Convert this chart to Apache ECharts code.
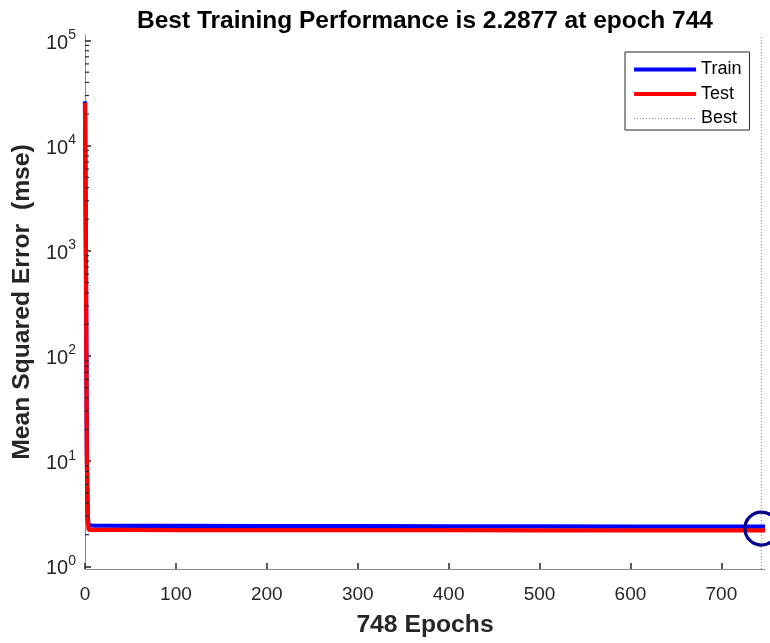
<!DOCTYPE html>
<html>
<head>
<meta charset="utf-8">
<script src="https://cdn.jsdelivr.net/npm/echarts@6/dist/echarts.min.js"></script>
<style>
  html, body { margin: 0; padding: 0; background: #fff; }
  #chart { width: 770px; height: 643px; }
</style>
</head>
<body>
<div id="chart"></div>
<script>
// Training record (epoch, mean squared error)
const trainEpochs = [0, 1, 2, 3, 4, 6, 10, 20, 50, 100, 200, 300, 400, 500, 600, 700, 744, 748];
const trainMse    = [26500, 900, 12, 3.0, 2.46, 2.44, 2.43, 2.43, 2.42, 2.42, 2.41, 2.41, 2.40, 2.40, 2.39, 2.39, 2.39, 2.39];
const testEpochs  = [0, 1, 2, 3, 4, 6, 10, 20, 50, 100, 200, 300, 400, 500, 600, 700, 744, 748];
const testMse     = [25600, 850, 11, 2.8, 2.23, 2.22, 2.22, 2.22, 2.22, 2.21, 2.21, 2.21, 2.21, 2.20, 2.20, 2.20, 2.20, 2.20];

const bestEpoch = 744;
const bestPerf = 2.2877;
const totalEpochs = 748;

const xTicks = [0, 100, 200, 300, 400, 500, 600, 700];
const yTicks = [1, 10, 100, 1000, 10000, 100000];
const minorMultipliers = [2, 3, 4, 5, 6, 7, 8, 9];

// plotted range of the log axis (a little padding around 10^0 .. 10^5)
const yMin = 0.943;
const yMax = 113000;

const FONT = '"Liberation Sans", Arial, Helvetica, sans-serif';
const INK = '#262626';

const zip = (xs, ys) => xs.map((x, i) => [x, ys[i]]);

// minor tick values between the decades of the log axis
const minorTickValues = [];
yTicks.slice(0, -1).forEach(d => {
  minorMultipliers.forEach(m => minorTickValues.push([0, m * d]));
});

const chart = echarts.init(document.getElementById('chart'), null, { renderer: 'canvas' });

chart.setOption({
  animation: false,
  backgroundColor: '#ffffff',
  title: {
    text: 'Best Training Performance is ' + bestPerf + ' at epoch ' + bestEpoch,
    left: 420,
    textAlign: 'center',
    top: 4,
    textStyle: { fontFamily: FONT, fontWeight: 'bold', fontSize: 24.5, color: '#000' }
  },
  grid: { left: 85, right: 5, top: 35, bottom: 72, containLabel: false },
  legend: {
    orient: 'vertical',
    left: 625,
    top: 52,
    padding: [8.5, 8, 2.5, 7],
    itemWidth: 62,
    itemHeight: 14,
    itemGap: 6.5,
    backgroundColor: '#ffffff',
    borderColor: INK,
    borderWidth: 1,
    borderRadius: 0,
    itemStyle: { opacity: 0 },
    lineStyle: { width: 'inherit' },
    textStyle: { fontFamily: FONT, fontSize: 18, color: '#000' },
    data: ['Train', 'Test', 'Best']
  },
  xAxis: {
    type: 'value',
    min: 0,
    max: totalEpochs,
    interval: 100,
    name: totalEpochs + ' Epochs',
    nameLocation: 'middle',
    nameGap: 44,
    nameTextStyle: { fontFamily: FONT, fontWeight: 'bold', fontSize: 24.7, color: INK },
    axisLine: { show: true, lineStyle: { color: '#8a8a8a', width: 1 } },
    axisTick: { show: true, inside: true, length: 6, lineStyle: { color: INK, width: 1.5 }, customValues: xTicks },
    axisLabel: {
      margin: 16,
      fontFamily: FONT, fontSize: 19, color: INK,
      customValues: xTicks,
      formatter: v => String(v)
    },
    splitLine: { show: false }
  },
  yAxis: {
    type: 'log',
    logBase: 10,
    min: yMin,
    max: yMax,
    name: 'Mean Squared Error  (mse)',
    nameLocation: 'middle',
    nameGap: 45,
    nameRotate: 90,
    nameTextStyle: { fontFamily: FONT, fontWeight: 'bold', fontSize: 24.7, color: INK },
    axisLine: { show: true, lineStyle: { color: '#8a8a8a', width: 1 } },
    axisTick: { show: true, inside: true, length: 6, lineStyle: { color: INK, width: 1.5 }, customValues: yTicks },
    axisLabel: {
      margin: 9,
      customValues: yTicks,
      formatter: v => {
        const e = Math.round(Math.log10(v));
        return '{b|10}{s|' + e + '}';
      },
      rich: {
        b: { fontFamily: FONT, fontSize: 20, color: INK, verticalAlign: 'bottom' },
        s: { fontFamily: FONT, fontSize: 14, color: INK, verticalAlign: 'bottom', padding: [0, 0, 11, 0] }
      }
    },
    splitLine: { show: false }
  },
  series: [
    {
      name: 'Train',
      type: 'line',
      data: zip(trainEpochs, trainMse),
      showSymbol: false,
      symbol: 'none',
      lineStyle: { color: '#0000ff', width: 4.2 },
      itemStyle: { color: '#0000ff' },
      z: 3
    },
    {
      name: 'Test',
      type: 'line',
      data: zip(testEpochs, testMse),
      showSymbol: false,
      symbol: 'none',
      lineStyle: { color: '#ff0000', width: 4.2 },
      itemStyle: { color: '#ff0000' },
      z: 4
    },
    {
      name: 'Best',
      type: 'line',
      data: [[bestEpoch, yMin], [bestEpoch, yMax]],
      showSymbol: false,
      symbol: 'none',
      lineStyle: { color: '#7b7bdb', width: 1, type: [1, 2] },
      itemStyle: { color: '#7b7bdb' },
      z: 2
    },
    {
      // ring around the best epoch
      name: 'bestMarker',
      type: 'scatter',
      data: [[bestEpoch, bestPerf]],
      symbol: 'circle',
      symbolSize: 33,
      clip: false,
      itemStyle: { color: 'rgba(0,0,0,0)', borderColor: '#00008c', borderWidth: 3.2, opacity: 1 },
      z: 6,
      silent: true
    },
    {
      // minor ticks of the log axis
      name: 'minorTicks',
      type: 'custom',
      data: minorTickValues,
      clip: false,
      silent: true,
      z: 5,
      renderItem: (params, api) => {
        const p = api.coord([0, api.value(1)]);
        return {
          type: 'line',
          shape: { x1: p[0], y1: p[1], x2: p[0] + 4, y2: p[1] },
          style: { stroke: INK, lineWidth: 1.2 }
        };
      }
    }
  ]
});
</script>
</body>
</html>
